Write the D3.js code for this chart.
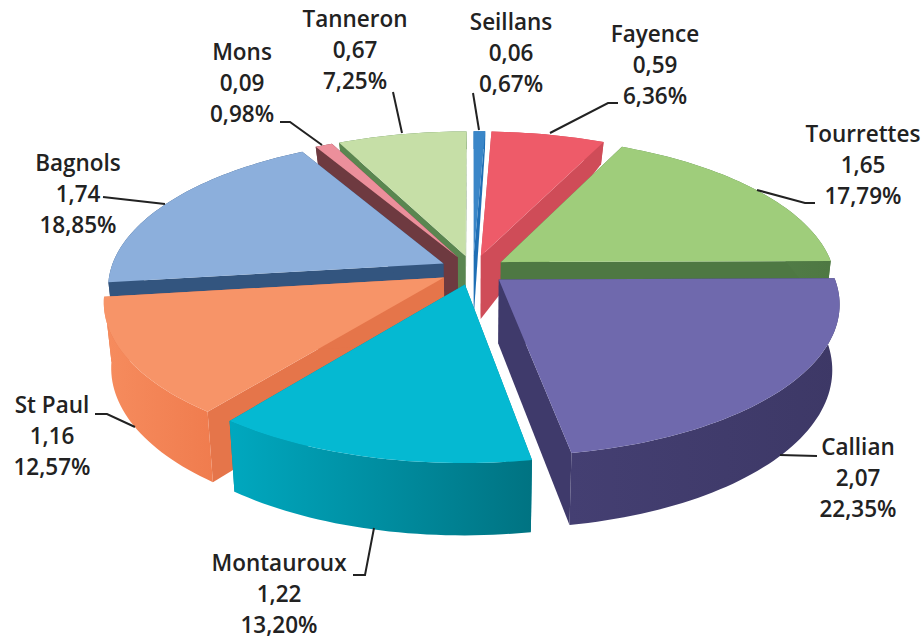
<!DOCTYPE html>
<html>
<head>
<meta charset="utf-8">
<script src="https://cdn.jsdelivr.net/npm/d3@7"></script>
<style>
    html, body { margin: 0; background: #fff; }
    text { font-family: "Open Sans", Lato, sans-serif; font-weight: 600; font-size: 22.5px; fill: #222; text-anchor: middle; }
</style>
</head>
<body>
<div id="chart"></div>
<script>
//Chart data
let communes = ["Seillans", "Fayence", "Tourrettes", "Callian", "Montauroux", "St Paul", "Bagnols", "Mons", "Tanneron"];
let values = [0.06, 0.59, 1.65, 2.07, 1.22, 1.16, 1.74, 0.09, 0.67];
let valueLabels = ["0,06", "0,59", "1,65", "2,07", "1,22", "1,16", "1,74", "0,09", "0,67"];
let percentLabels = ["0,67%", "6,36%", "17,79%", "22,35%", "13,20%", "12,57%", "18,85%", "0,98%", "7,25%"];

//Colours for each slice
let topColors = ["#3a86c8", "#ee5b69", "#9fcd7b", "#6f69ad", "#05b9d2", "#f79468", "#8cafdc", "#ec8f9b", "#c6dfa7"];
let cutColors = ["#1f6fb5", "#cf4c58", "#4e7843", "#3f3a6b", "#00889a", "#e5754a", "#33557f", "#6e3a40", "#5a8650"];
let wallLeft = ["#1f6fb5", "#cf4c58", "#5a8650", "#443f72", "#00a8bf", "#f68c5e", "#33557f", "#6e3a40", "#5a8650"];
let wallRight = ["#1f6fb5", "#cf4c58", "#4e7843", "#3d3866", "#007382", "#f07c4e", "#33557f", "#6e3a40", "#5a8650"];

//Painter order, back of the pie first
let drawOrder = [0, 8, 7, 6, 5, 1, 2, 3, 4];

//Label placement: centre x and first baseline
let labelX = [511, 655, 863, 858, 279, 52, 78, 242, 355];
let labelY = [30, 42, 142, 455, 571, 413, 171, 60, 27];
let lineStep = 31;
let leaders = [
    [[473, 93], [479, 130]],
    [[550, 133], [608, 103], [618, 103]],
    [[757, 190], [805, 203], [815, 203]],
    [[780, 455], [817, 456]],
    [[374, 528], [365, 575], [353, 575]],
    [[135, 427], [107, 414], [95, 414]],
    [[165, 204], [103, 197]],
    [[322, 145], [290, 122], [280, 122]],
    [[393, 92], [402, 133]]
];

//Dimensions and projection settings
let width = 924;
let height = 640;
let cx = 473;
let cy = 270;
let radiusX = 333;
let radiusY = 147;
let perspective = 0.15;
let explode = 0.1;
let shrinkBottom = 0.98;

//Side height depends on how far the point is from the viewer
let depth = d3.scaleLinear().domain([-1.05, -0.1, 1.05]).range([20, 63, 72]);

let svg = d3.select("#chart")
    .append("svg")
    .attr("width", width)
    .attr("height", height)
    .style("display", "block");

let defs = svg.append("defs");
let line = d3.line();

/**
 * Slice point on the pie plane, returned on screen
 * @param {object} slice  d3.pie item
 * @param {number} r      0 at the apex, 1 on the rim
 * @param {number} angle  radians from 12 o'clock
 * @param {boolean} bottom  underside of the slice instead of the top
 */
function project(slice, r, angle, bottom) {
    let mid = (slice.startAngle + slice.endAngle) / 2;
    let u = explode * Math.sin(mid) + r * Math.sin(angle);
    let v = -(explode * Math.cos(mid) + r * Math.cos(angle));
    let w = 1 - perspective * v;
    let x = radiusX * u / w;
    let y = cy + radiusY * v / w;
    if (bottom) {
        return [cx + x * shrinkBottom, y + depth(v)];
    }
    return [cx + x, y];
}

function rim(slice, bottom) {
    let steps = Math.max(2, Math.ceil((slice.endAngle - slice.startAngle) * 40));
    return d3.range(steps + 1).map(function (i) {
        let a = slice.startAngle + (slice.endAngle - slice.startAngle) * i / steps;
        return project(slice, 1, a, bottom);
    });
}

let pie = d3.pie().sort(null).value(function (d) { return d; });
let slices = pie(values);

drawOrder.forEach(function (i) {
    let slice = slices[i];
    let g = svg.append("g").attr("class", "slice");

    let apexTop = project(slice, 0, 0, false);
    let apexBottom = project(slice, 0, 0, true);

    //Two cut faces
    [slice.startAngle, slice.endAngle].forEach(function (a) {
        g.append("path")
            .attr("d", line([apexTop, project(slice, 1, a, false), project(slice, 1, a, true), apexBottom]) + "Z")
            .attr("fill", cutColors[i]);
    });

    //Outer wall
    let grad = defs.append("linearGradient").attr("id", "wall" + i);
    grad.append("stop").attr("offset", "0%").attr("stop-color", wallLeft[i]);
    grad.append("stop").attr("offset", "100%").attr("stop-color", wallRight[i]);
    g.append("path")
        .attr("d", line(rim(slice, false).concat(rim(slice, true).reverse())) + "Z")
        .attr("fill", "url(#wall" + i + ")");

    //Top face
    g.append("path")
        .attr("d", line([apexTop].concat(rim(slice, false))) + "Z")
        .attr("fill", topColors[i]);
});

//Leader lines
svg.selectAll(".leader")
    .data(leaders)
    .enter()
    .append("path")
    .attr("class", "leader")
    .attr("d", function (d) { return line(d); })
    .attr("fill", "none")
    .attr("stroke", "#222")
    .attr("stroke-width", 2);

//Labels
communes.forEach(function (name, i) {
    let label = svg.append("text").attr("x", labelX[i]).attr("y", labelY[i]);
    [name, valueLabels[i], percentLabels[i]].forEach(function (t, k) {
        label.append("tspan")
            .attr("x", labelX[i])
            .attr("y", labelY[i] + k * lineStep)
            .text(t);
    });
});
</script>
</body>
</html>
